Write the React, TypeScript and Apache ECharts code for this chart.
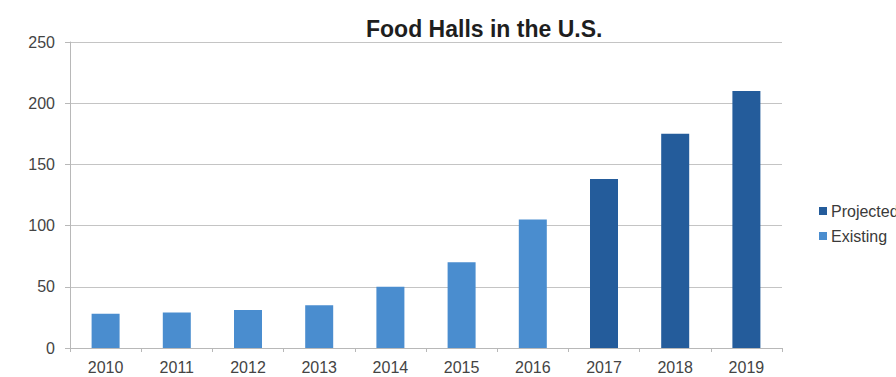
import React, { useEffect, useRef } from "react";
import * as echarts from "echarts";

const years = ["2010", "2011", "2012", "2013", "2014", "2015", "2016", "2017", "2018", "2019"];
const existing = [28, 29, 31, 35, 50, 70, 105, null, null, null];
const projected = [null, null, null, null, null, null, null, 138, 175, 210];
const yTicks = { min: 0, max: 250, interval: 50 };

export default function App() {
  const ref = useRef<HTMLDivElement>(null);
  useEffect(() => {
    const chart = echarts.init(ref.current!, null, { renderer: "svg" });
    const font = "'Liberation Sans', Arial, sans-serif";
    chart.setOption({
      animation: false,
      backgroundColor: "#ffffff",
      textStyle: { fontFamily: font },
      title: {
        text: "Food Halls in the U.S.",
        left: 361,
        top: 12,
        textStyle: { fontFamily: font, fontSize: 23, fontWeight: "bold", color: "#1e1e1e" },
      },
      legend: {
        orient: "vertical",
        left: 814,
        top: 198,
        itemWidth: 8,
        itemHeight: 8,
        itemGap: 9,
        icon: "rect",
        data: ["Projected", "Existing"],
        textStyle: { fontFamily: font, fontSize: 16, color: "#3a3a3a", padding: [0, 0, 0, -1] },
      },
      grid: { left: 70, right: 114, top: 42, bottom: 29, containLabel: false },
      xAxis: {
        type: "category",
        data: years,
        axisLine: { lineStyle: { color: "#b8b8b8", width: 1 } },
        axisTick: { show: true, length: 4, lineStyle: { color: "#b8b8b8" } },
        axisLabel: { fontFamily: font, fontSize: 16, color: "#444444", margin: 11 },
      },
      yAxis: {
        type: "value",
        min: yTicks.min,
        max: yTicks.max,
        interval: yTicks.interval,
        axisLine: { show: true, lineStyle: { color: "#b8b8b8", width: 1 } },
        axisTick: { show: true, length: 5, lineStyle: { color: "#b8b8b8" } },
        splitLine: { lineStyle: { color: "#c4c4c4", width: 1 } },
        axisLabel: { fontFamily: font, fontSize: 16, color: "#444444", margin: 15 },
      },
      series: [
        {
          name: "Existing",
          type: "bar",
          stack: "total",
          barWidth: 28,
          data: existing,
          itemStyle: { color: "#4a8dcf" },
        },
        {
          name: "Projected",
          type: "bar",
          stack: "total",
          barWidth: 28,
          data: projected,
          itemStyle: { color: "#245c9b" },
        },
      ],
    });
    return () => chart.dispose();
  }, []);
  return <div ref={ref} style={{ width: 896, height: 377, position: "absolute", left: 0, top: 0 }} />;
}
